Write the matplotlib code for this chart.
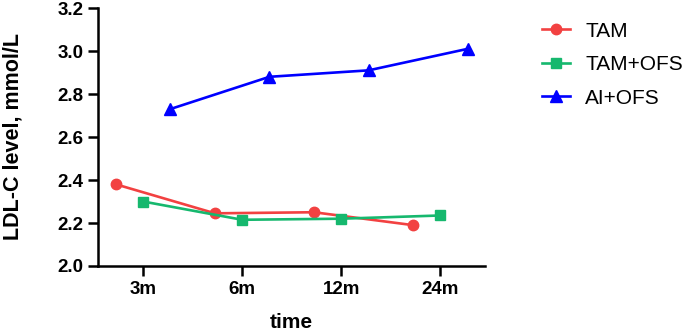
import numpy as np
import matplotlib
matplotlib.use("Agg")
import matplotlib.pyplot as plt

categories = ["3m", "6m", "12m", "24m"]
tam = [2.38, 2.245, 2.25, 2.19]
tam_ofs = [2.30, 2.215, 2.22, 2.235]
ai_ofs = [2.73, 2.88, 2.91, 3.01]

plt.rcParams['font.family'] = ['Liberation Sans', 'DejaVu Sans']

fig = plt.figure(figsize=(6.85, 3.34), dpi=100)
ax = fig.add_axes([98 / 685, 1 - 266 / 334, (485 - 98) / 685, (266 - 8) / 334])

x = np.arange(len(categories))
off = 0.275
ax.plot(x - off, tam, color="#f24141", marker="o", markersize=7.5, linewidth=1.9, label="TAM")
ax.plot(x, tam_ofs, color="#16b86e", marker="s", markersize=7, linewidth=1.9, label="TAM+OFS")
ax.plot(x + off, ai_ofs, color="#0000ff", marker="^", markersize=8, linewidth=1.9, label="AI+OFS")

ax.set_xlim(-0.455, 3.45)
ax.set_ylim(2.0, 3.2)
ax.set_xticks(x)
ax.set_xticklabels(categories)
ax.set_yticks(np.arange(2.0, 3.21, 0.2))
ax.set_yticklabels([f"{v:.1f}" for v in np.arange(2.0, 3.21, 0.2)])

for lab in ax.get_xticklabels() + ax.get_yticklabels():
    lab.set_fontweight("bold")
    lab.set_fontsize(13.5)

ax.tick_params(axis="both", width=1.8, length=7.5, direction="out", pad=3)
for side in ["top", "right"]:
    ax.spines[side].set_visible(False)
for side in ["left", "bottom"]:
    ax.spines[side].set_linewidth(1.8)

ax.set_ylabel("LDL-C level, mmol/L", fontsize=15.5, fontweight="bold", labelpad=24)
ax.set_xlabel("time", fontsize=15, fontweight="bold", labelpad=11)

ax.legend(loc="upper left", bbox_to_anchor=(1.1, 1.02), frameon=False, fontsize=15,
          handlelength=1.3, labelspacing=0.7, handletextpad=0.75)

fig.savefig("out.png", dpi=100)
